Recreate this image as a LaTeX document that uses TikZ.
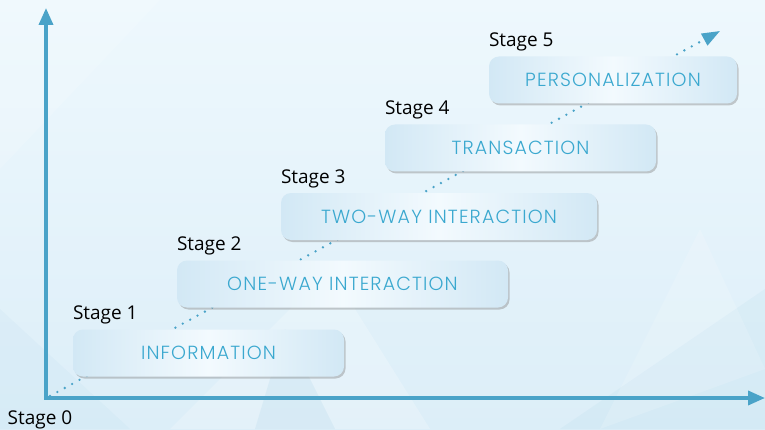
\documentclass[tikz,border=0pt]{standalone}
\usepackage{fontspec}
\setmainfont{Open Sans}
\newfontfamily\boxfont{Poppins Light}[LetterSpace=6]
\usetikzlibrary{arrows.meta,shadows}

\definecolor{axisblue}{HTML}{4AA3C8}
\definecolor{textblue}{HTML}{3AA8CF}
\definecolor{bglight}{HTML}{EEF8FD}
\definecolor{bgdark}{HTML}{DCEEF8}
\definecolor{boxside}{HTML}{D2E8F5}
\definecolor{boxmid}{HTML}{F3FAFE}

\tikzset{
  stagebox/.style={rounded corners=10pt, minimum height=47pt, inner sep=0pt,
    left color=boxside, right color=boxside, middle color=boxmid,
    drop shadow={shadow xshift=1.5pt, shadow yshift=-2pt, opacity=.4, fill=black!50},
    text=textblue, font=\boxfont\fontsize{19}{21}\selectfont},
  stagelabel/.style={anchor=south west, inner sep=0pt, font=\fontsize{19}{22}\selectfont},
  axis/.style={line width=3.5pt, draw=axisblue,
    {Triangle[length=17pt,width=14pt]}-{Triangle[length=17pt,width=14pt]}},
  dotline/.style={line width=2.6pt, draw=axisblue, dash pattern=on 0pt off 8.4pt,
    line cap=round, -{Triangle[length=18pt,width=13pt]}}
}

\begin{document}
\begin{tikzpicture}[x=1pt,y=1pt]
\useasboundingbox (0,0) rectangle (765,429);
\shade[bottom color=bgdark, top color=bglight] (0,0) rectangle (765,429);
% faint facets
\fill[white, opacity=.22] (170,0) -- (330,160) -- (430,0) -- cycle;
\fill[axisblue, opacity=.08] (255,0) -- (285,100) -- (335,0) -- cycle;
\fill[axisblue, opacity=.05] (560,0) -- (765,140) -- (765,0) -- cycle;
\fill[white, opacity=.15] (600,0) -- (700,200) -- (765,60) -- cycle;
\fill[axisblue, opacity=.04] (0,120) -- (130,0) -- (0,0) -- cycle;
\fill[white, opacity=.15] (0,260) -- (160,429) -- (0,429) -- cycle;

\coordinate (o) at (46,31);
\coordinate (ytop) at (46,421);
\coordinate (xend) at (765,31);
\coordinate (d0) at (50,33);
\coordinate (d1) at (720,398);

\draw[dotline] (d0) -- (d1);
\draw[axis] (ytop) -- (o) -- (xend);

\node[stagebox, minimum width=271pt] (info) at (208.5,76) {INFORMATION};
\node[stagebox, minimum width=331pt] (oneway) at (342.5,145) {ONE-WAY INTERACTION};
\node[stagebox, minimum width=316pt] (twoway) at (439,212.5) {TWO-WAY INTERACTION};
\node[stagebox, minimum width=271pt] (trans) at (520.5,281) {TRANSACTION};
\node[stagebox, minimum width=248pt] (pers) at (613,349) {PERSONALIZATION};

\node[stagelabel, anchor=north] (s0) at ([xshift=-6pt,yshift=-13pt]o) {Stage 0};
\node[stagelabel] (s1) at ([yshift=5pt]info.north west) {Stage 1};
\node[stagelabel] (s2) at ([yshift=5pt]oneway.north west) {Stage 2};
\node[stagelabel] (s3) at ([yshift=5pt]twoway.north west) {Stage 3};
\node[stagelabel] (s4) at ([yshift=5pt]trans.north west) {Stage 4};
\node[stagelabel] (s5) at ([yshift=5pt]pers.north west) {Stage 5};
\end{tikzpicture}
\end{document}
